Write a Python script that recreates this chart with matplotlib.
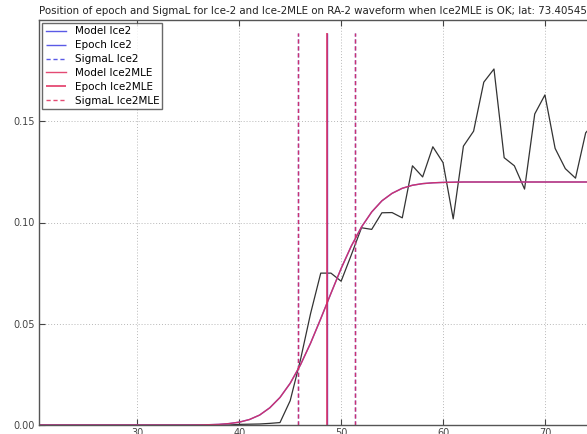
import matplotlib
matplotlib.use("Agg")
import matplotlib.pyplot as plt

gates = list(range(20, 76))
waveform = [0.0] * 20 + [
    0.0003, 0.0004, 0.0005, 0.0008, 0.0012,
    0.012, 0.032, 0.055, 0.075, 0.075, 0.071, 0.084, 0.0974, 0.0966,
    0.1048, 0.1049, 0.1023, 0.128, 0.1225, 0.1374, 0.1296, 0.1018,
    0.1377, 0.1451, 0.1693, 0.1758, 0.132, 0.128, 0.1165, 0.1536,
    0.163, 0.1366, 0.1266, 0.1219, 0.1443, 0.150,
]
model_ice2 = [0.0] * 16 + [
    0.00005, 0.00014, 0.0003, 0.0007, 0.0014, 0.0027, 0.0049, 0.0085,
    0.0136, 0.0206, 0.0296, 0.0404, 0.0525, 0.065, 0.0773, 0.0884,
    0.0978, 0.1052, 0.1107, 0.1144, 0.1169, 0.1184, 0.1192, 0.1196,
    0.1198, 0.1199,
] + [0.12] * 14
model_ice2mle = list(model_ice2)

epoch_ice2 = 48.6
sigma_ice2 = [45.8, 51.4]
epoch_ice2mle = 48.6
sigma_ice2mle = [45.8, 51.4]
vline_top = 0.1935

title = ("Position of epoch and SigmaL for Ice-2 and Ice-2MLE on RA-2 waveform "
         "when Ice2MLE is OK; lat: 73.4054523  lon: -45.21")

fig = plt.figure(figsize=(5.87, 4.34), dpi=100)
x0, x1 = 20.38, 80.0
px_per_unit = 10.19
left = 39.3 / 587
width = (x1 - x0) * px_per_unit / 587
bottom = (434 - 425) / 434
height = (425 - 20) / 434
ax = fig.add_axes([left, bottom, width, height])

blue = "#5a5ae6"
red = "#e02a5a"
dash = (0, (3, 2))

ax.plot(gates, waveform, color="#333333", lw=0.9)
ax.plot(gates, model_ice2, color=blue, lw=1.0, label="Model Ice2")
ax.vlines(epoch_ice2, 0, vline_top, colors=blue, lw=1.0, label="Epoch Ice2")
ax.vlines(sigma_ice2, 0, vline_top, colors=blue, lw=1.0, linestyles=dash,
          label="SigmaL Ice2")
ax.plot(gates, model_ice2mle, color=red, lw=1.0, alpha=0.85, label="Model Ice2MLE")
ax.vlines(epoch_ice2mle, 0, vline_top, colors=red, lw=1.1, alpha=1.0,
          label="Epoch Ice2MLE")
ax.vlines(sigma_ice2mle, 0, vline_top, colors=red, lw=1.0, alpha=0.85,
          linestyles=dash, label="SigmaL Ice2MLE")

ax.set_xlim(x0, x1)
ax.set_ylim(0, 0.2)
ax.set_xticks([30, 40, 50, 60, 70])
ax.set_yticks([0.0, 0.05, 0.10, 0.15])
ax.set_yticklabels(["0.00", "0.05", "0.10", "0.15"])
ax.grid(True, linestyle=(0, (1, 2)), color="#b8b8b8", lw=0.7)
ax.tick_params(direction="in", length=4, labelsize=7, colors="#444444",
               top=True, right=True)
ax.tick_params(axis="x", pad=2)
ax.tick_params(axis="y", pad=3)
for s in ax.spines.values():
    s.set_color("#555555")
    s.set_linewidth(1.0)

ax.set_title(title, loc="left", fontsize=7.4, pad=4, color="#222222")
leg = ax.legend(loc="upper left", fontsize=7.5, frameon=True, fancybox=False,
                borderpad=0.3, labelspacing=0.38, handlelength=2.0,
                borderaxespad=0.3)
leg.get_frame().set_edgecolor("#444444")
leg.get_frame().set_linewidth(1.0)

fig.savefig("out.png", dpi=100)
